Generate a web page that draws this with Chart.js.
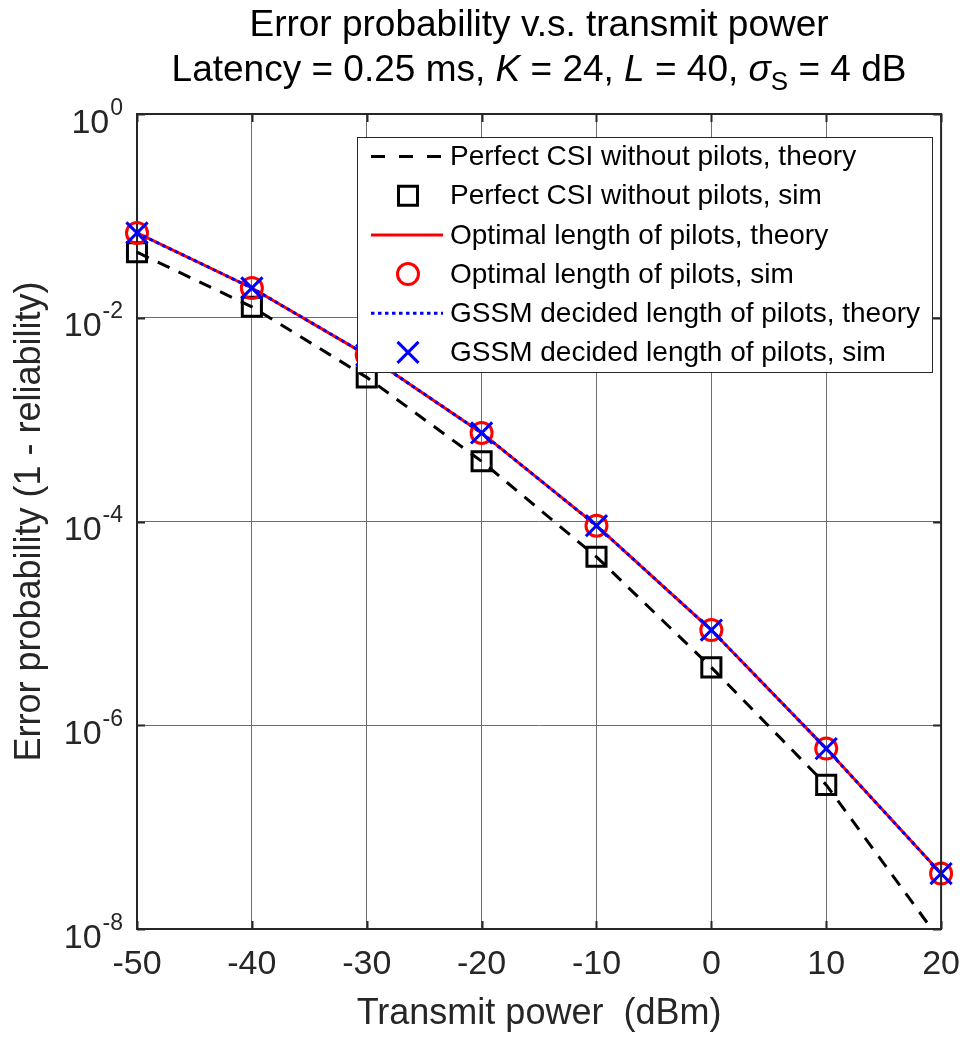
<!DOCTYPE html>
<html><head><meta charset="utf-8">
<script src="https://cdn.jsdelivr.net/npm/chart.js@4.4.0/dist/chart.umd.min.js"></script>
<style>html,body{margin:0;padding:0;background:#fff;}canvas{display:block;}</style>
</head><body>
<canvas id="c" width="975" height="1037"></canvas>
<script>
// ---- data ----
const powerDbm = [-50, -40, -30, -20, -10, 0, 10, 20];
const perfectTheory = [0.044, 0.0128, 0.0026, 3.9e-4, 4.5e-5, 3.7e-6, 2.6e-7, 7.5e-9];
const perfectSimDbm = [-50, -40, -30, -20, -10, 0, 10];
const perfectSim = [0.044, 0.0128, 0.0026, 3.9e-4, 4.5e-5, 3.7e-6, 2.6e-7];
const optimalTheory = [0.068, 0.0196, 0.0043, 7.4e-4, 9.1e-5, 8.6e-6, 5.9e-7, 3.5e-8];
const optimalSim = [0.068, 0.0196, 0.0043, 7.4e-4, 9.1e-5, 8.6e-6, 5.9e-7, 3.5e-8];
const gssmTheory = [0.068, 0.0196, 0.0043, 7.4e-4, 9.1e-5, 8.6e-6, 5.9e-7, 3.5e-8];
const gssmSim = [0.068, 0.0196, 0.0043, 7.4e-4, 9.1e-5, 8.6e-6, 5.9e-7, 3.5e-8];
const xTickValues = [-50, -40, -30, -20, -10, 0, 10, 20];
const yTickExponents = [0, -2, -4, -6, -8];
const legendLabels = [
  'Perfect CSI without pilots, theory',
  'Perfect CSI without pilots, sim',
  'Optimal length of pilots, theory',
  'Optimal length of pilots, sim',
  'GSSM decided length of pilots, theory',
  'GSSM decided length of pilots, sim'
];
const titleLine1 = 'Error probability v.s. transmit power';
const xTitle = 'Transmit power  (dBm)';
const yTitle = 'Error probability (1 - reliability)';

// ---- styling ----
const FONT = "'Liberation Sans', Arial, Helvetica, sans-serif";
const TXT = '#262626';
const pts = (xs, ys) => xs.map((x, i) => ({x: x, y: ys[i]}));

const datasets = [
  {label: legendLabels[0], data: pts(powerDbm, perfectTheory), showLine: true, borderColor: '#000000',
   borderWidth: 3, borderDash: [13, 10], pointRadius: 0, pointHoverRadius: 0, order: 6,
   clip: {left: 4, right: 4, top: 4, bottom: 0}},
  {label: legendLabels[1], data: pts(perfectSimDbm, perfectSim), showLine: false, pointStyle: 'rect',
   pointRadius: 13.5, pointBorderColor: '#000000', pointBackgroundColor: 'rgba(0,0,0,0)', pointBorderWidth: 3,
   order: 5, clip: false},
  {label: legendLabels[2], data: pts(powerDbm, optimalTheory), showLine: true, borderColor: '#ff0000',
   borderWidth: 3, pointRadius: 0, pointHoverRadius: 0, order: 4, clip: {left: 4, right: 4, top: 4, bottom: 4}},
  {label: legendLabels[3], data: pts(powerDbm, optimalSim), showLine: false, pointStyle: 'circle',
   pointRadius: 10.5, pointBorderColor: '#ff0000', pointBackgroundColor: 'rgba(0,0,0,0)', pointBorderWidth: 3,
   order: 3, clip: false},
  {label: legendLabels[4], data: pts(powerDbm, gssmTheory), showLine: true, borderColor: '#0000ff',
   borderWidth: 3, borderDash: [3.5, 3.5], pointRadius: 0, pointHoverRadius: 0, order: 2,
   clip: {left: 4, right: 4, top: 4, bottom: 4}},
  {label: legendLabels[5], data: pts(powerDbm, gssmSim), showLine: false, pointStyle: 'crossRot',
   pointRadius: 15, pointBorderColor: '#0000ff', pointBackgroundColor: 'rgba(0,0,0,0)', pointBorderWidth: 3,
   order: 1, clip: false}
];

const legendStyles = [
  {line: '#000000', dash: [14, 14]},
  {marker: 'square', color: '#000000'},
  {line: '#ff0000', dash: []},
  {marker: 'circle', color: '#ff0000'},
  {line: '#0000ff', dash: [3.5, 3.5]},
  {marker: 'x', color: '#0000ff'}
];

const decor = {
  id: 'decor',
  afterDraw(chart) {
    const ctx = chart.ctx;
    const a = chart.chartArea;
    const xs = chart.scales.x, ys = chart.scales.y;
    ctx.save();
    // box (top/right) and inner ticks
    ctx.strokeStyle = TXT;
    ctx.lineWidth = 2;
    ctx.beginPath();
    ctx.moveTo(a.left, a.top); ctx.lineTo(a.right, a.top); ctx.lineTo(a.right, a.bottom);
    ctx.stroke();
    const tl = 8;
    ctx.beginPath();
    xTickValues.forEach(v => {
      const px = Math.round(xs.getPixelForValue(v)) + 0.5;
      ctx.moveTo(px, a.bottom); ctx.lineTo(px, a.bottom - tl);
      ctx.moveTo(px, a.top); ctx.lineTo(px, a.top + tl);
    });
    yTickExponents.forEach(e => {
      const py = Math.round(ys.getPixelForValue(Math.pow(10, e))) + 0.5;
      ctx.moveTo(a.left, py); ctx.lineTo(a.left + tl, py);
      ctx.moveTo(a.right, py); ctx.lineTo(a.right - tl, py);
    });
    ctx.stroke();

    // y tick labels 10^e
    ctx.fillStyle = TXT;
    ctx.textBaseline = 'alphabetic';
    yTickExponents.forEach(e => {
      const py = ys.getPixelForValue(Math.pow(10, e));
      const expStr = String(e);
      ctx.font = '23px ' + FONT;
      ctx.textAlign = 'right';
      const ew = ctx.measureText(expStr).width;
      ctx.fillText(expStr, 123, py + 0.5);
      ctx.font = '34px ' + FONT;
      ctx.fillText('10', 123 - ew - 1, py + 18.5);
    });

    // axis titles
    ctx.fillStyle = TXT;
    ctx.font = '36px ' + FONT;
    ctx.textAlign = 'center';
    ctx.fillText(xTitle, (a.left + a.right) / 2, 1024);
    ctx.save();
    ctx.translate(40, (a.top + a.bottom) / 2);
    ctx.rotate(-Math.PI / 2);
    ctx.fillText(yTitle, 0, 0);
    ctx.restore();

    // title
    const cx = (a.left + a.right) / 2;
    ctx.fillStyle = '#000000';
    ctx.font = '37px ' + FONT;
    ctx.textAlign = 'center';
    ctx.fillText(titleLine1, cx, 36);
    const segs = [
      {t: 'Latency = 0.25 ms, ', f: '37px ' + FONT, dy: 0},
      {t: 'K', f: 'italic 37px ' + FONT, dy: 0},
      {t: ' = 24, ', f: '37px ' + FONT, dy: 0},
      {t: 'L', f: 'italic 37px ' + FONT, dy: 0},
      {t: ' = 40, ', f: '37px ' + FONT, dy: 0},
      {t: 'σ', f: 'italic 37px ' + FONT, dy: 0},
      {t: 'S', f: '26px ' + FONT, dy: 9},
      {t: ' = 4 dB', f: '37px ' + FONT, dy: 0}
    ];
    let total = 0;
    segs.forEach(s => { ctx.font = s.f; s.w = ctx.measureText(s.t).width; total += s.w; });
    let x0 = cx - total / 2;
    ctx.textAlign = 'left';
    segs.forEach(s => { ctx.font = s.f; ctx.fillText(s.t, x0, 81 + s.dy); x0 += s.w; });

    // legend
    const L = {left: 357, top: 137, right: 932, bottom: 372};
    ctx.fillStyle = '#ffffff';
    ctx.fillRect(L.left, L.top, L.right - L.left, L.bottom - L.top);
    ctx.strokeStyle = TXT;
    ctx.lineWidth = 1;
    ctx.strokeRect(L.left + 0.5, L.top + 0.5, L.right - L.left, L.bottom - L.top);
    const rowH = (L.bottom - L.top) / legendLabels.length;
    legendLabels.forEach((lab, i) => {
      const y = L.top + rowH * (i + 0.5);
      const st = legendStyles[i];
      ctx.save();
      if (st.line) {
        ctx.strokeStyle = st.line; ctx.lineWidth = 3; ctx.setLineDash(st.dash);
        ctx.beginPath(); ctx.moveTo(371, y); ctx.lineTo(443, y); ctx.stroke();
      } else {
        ctx.strokeStyle = st.color; ctx.lineWidth = 3; ctx.setLineDash([]);
        const mx = 408;
        ctx.beginPath();
        if (st.marker === 'square') ctx.rect(mx - 9.5, y - 9.5, 19, 19);
        else if (st.marker === 'circle') ctx.arc(mx, y, 10.5, 0, Math.PI * 2);
        else { ctx.moveTo(mx - 10.5, y - 10.5); ctx.lineTo(mx + 10.5, y + 10.5); ctx.moveTo(mx + 10.5, y - 10.5); ctx.lineTo(mx - 10.5, y + 10.5); }
        ctx.stroke();
      }
      ctx.restore();
      ctx.fillStyle = '#000000';
      ctx.font = '28px ' + FONT;
      ctx.textAlign = 'left';
      ctx.textBaseline = 'middle';
      ctx.fillText(lab, 450, y + 1);
    });
    ctx.restore();
  }
};

new Chart(document.getElementById('c'), {
  type: 'scatter',
  data: {datasets: datasets},
  options: {
    responsive: false,
    animation: false,
    devicePixelRatio: 1,
    events: [],
    layout: {padding: {top: 114, right: 23, left: 0, bottom: 0}},
    plugins: {legend: {display: false}, title: {display: false}, tooltip: {enabled: false}},
    scales: {
      x: {
        type: 'linear', min: -50, max: 20,
        afterBuildTicks: s => { s.ticks = xTickValues.map(v => ({value: v})); },
        afterFit: s => { s.height = 108; },
        ticks: {color: TXT, font: {family: FONT, size: 34}, padding: 15, callback: v => String(v), maxRotation: 0, autoSkip: false},
        grid: {color: '#6e6e6e', lineWidth: 1, drawTicks: false},
        border: {display: true, color: TXT, width: 2}
      },
      y: {
        type: 'logarithmic', min: 1e-8, max: 1,
        afterBuildTicks: s => { s.ticks = yTickExponents.map(e => ({value: Math.pow(10, e)})); },
        afterFit: s => { s.width = 137; },
        ticks: {display: false},
        grid: {color: '#6e6e6e', lineWidth: 1, drawTicks: false},
        border: {display: true, color: TXT, width: 2}
      }
    }
  },
  plugins: [decor]
});
</script>
</body></html>
